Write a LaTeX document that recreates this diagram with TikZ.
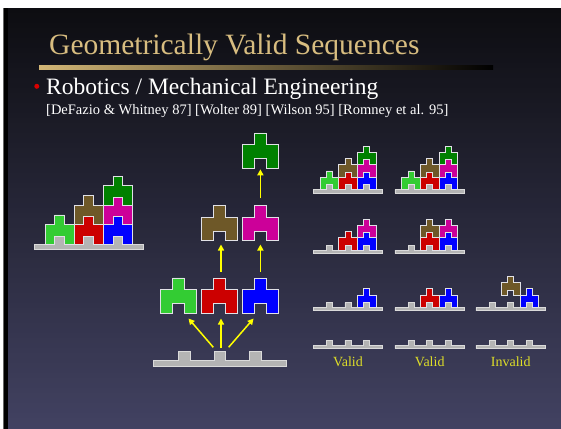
\documentclass[tikz,border=0pt]{standalone}
\usepackage{fontspec}
\setmainfont{Liberation Serif}
\usetikzlibrary{arrows.meta}

\definecolor{bgtop}{RGB}{13,13,17}
\definecolor{bgbot}{RGB}{66,66,98}
\definecolor{titlegold}{RGB}{216,189,128}
\definecolor{rulegold}{RGB}{210,182,118}
\definecolor{lgreen}{RGB}{51,204,51}
\definecolor{pred}{RGB}{204,0,0}
\definecolor{pblue}{RGB}{0,0,255}
\definecolor{pbrown}{RGB}{110,88,40}
\definecolor{pmagenta}{RGB}{204,0,153}
\definecolor{dgreen}{RGB}{0,128,0}
\definecolor{plategray}{RGB}{180,180,180}
\definecolor{plateedge}{RGB}{218,218,218}
\definecolor{pieceedge}{RGB}{225,225,230}
\definecolor{arrowyellow}{RGB}{255,255,0}
\definecolor{labelyellow}{RGB}{222,222,40}

\tikzset{
  pics/piece/.style 2 args={code={
    \filldraw[draw=pieceedge, line width=0.8pt, line join=miter, fill=#1, scale=#2]
      (0,0) -- (1,0) -- (1,-0.8) -- (2,-0.8) -- (2,0) -- (3,0) -- (3,-2)
      -- (2,-2) -- (2,-3) -- (1,-3) -- (1,-2) -- (0,-2) -- cycle;
  }},
  pics/plate/.style={code={
    \filldraw[draw=plateedge, line width=0.8pt, fill=plategray, scale=#1]
      (-1.1,0.57) -- (-1.1,0) -- (1,0) -- (1,-0.75) -- (2,-0.75) -- (2,0)
      -- (4,0) -- (4,-0.75) -- (5,-0.75) -- (5,0) -- (7,0) -- (7,-0.75)
      -- (8,-0.75) -- (8,0) -- (10.1,0) -- (10.1,0.57) -- cycle;
  }},
  flow/.style={draw=arrowyellow, line width=1.5pt,
    -{Triangle[length=6pt,width=6pt]}},
  verdict/.style={font=\fontsize{14}{16}\selectfont, text=labelyellow,
    anchor=base, inner sep=0pt},
}

% one piece of an assembly: slot, level, colour
\newcommand\asmpiece[3]{%
  \pic at ({3*(#1)*\asmscale},{-2*(#2)*\asmscale}) {piece={#3}{\asmscale}};}

\begin{document}
\begin{tikzpicture}[x=1pt,y=-1pt]
\useasboundingbox (0,0) rectangle (561,428);

% slide background, built from thin horizontal bands
\fill[white] (0,0) rectangle (561,428);
\fill[black!60] (3,8) rectangle (4.2,432);
\fill[black] (4.2,8) rectangle (7.5,432);
\foreach \k in {0,...,84} {
  \pgfmathsetmacro\mix{100*\k/84}
  \fill[bgbot!\mix!bgtop] (7.5,{8+5*\k}) rectangle (570,{13.6+5*\k});
}

% heading
\node[anchor=base west, inner sep=0pt, text=titlegold,
      font=\fontsize{29.5}{34}\selectfont] (title) at (49,54.3)
  {Geometrically Valid Sequences};
\shade[left color=rulegold, middle color=rulegold!85!black, right color=black]
  (39,65.3) rectangle (493,69.5);

% bullet and references
\fill[red!85!black] (36.8,86.3) circle (2.5);
\node[anchor=base west, inner sep=0pt, text=white,
      font=\fontsize{23.5}{28}\selectfont] (sub) at (46,94.3)
  {Robotics / Mechanical Engineering};
\node[anchor=base west, inner sep=0pt, text=white,
      font=\fontsize{14.5}{17}\selectfont] (refs) at (46,114)
  {[DeFazio \& Whitney 87] [Wolter 89] [Wilson 95] [Romney et al. 95]};

% complete assembly
\begin{scope}[shift={(45,244)}]
  \def\asmscale{9.7}
  \pic at (0,0) {plate=\asmscale};
  \asmpiece{0}{0}{lgreen}
  \asmpiece{1}{0}{pred}
  \asmpiece{2}{0}{pblue}
  \asmpiece{1}{1}{pbrown}
  \asmpiece{2}{1}{pmagenta}
  \asmpiece{2}{2}{dgreen}
\end{scope}

% precedence tree
\begin{scope}[shift={(166.8,360)}]
  \def\asmscale{11.8}
  \pic at (0,0) {plate=\asmscale};
\end{scope}
\pic at (160.7,313.3) {piece={lgreen}{11.8}};
\pic at (201.7,313.3) {piece={pred}{11.8}};
\pic at (242.5,313.3) {piece={pblue}{11.8}};
\pic at (201.7,240.7) {piece={pbrown}{11.8}};
\pic at (242.5,240.7) {piece={pmagenta}{11.8}};
\pic at (242.5,168.3) {piece={dgreen}{11.8}};

\coordinate (baseL) at (213.3,347.3);
\coordinate (baseM) at (221,348.3);
\coordinate (baseR) at (228.6,347.3);
\coordinate (greenIn) at (188.5,318.5);
\coordinate (redIn) at (221,318.5);
\coordinate (blueIn) at (253.6,318.5);
\coordinate (redOut) at (221,271.7);
\coordinate (blueOut) at (260.4,271.7);
\coordinate (brownIn) at (221,244.5);
\coordinate (magIn) at (260.4,244.5);
\coordinate (magOut) at (260.4,198.3);
\coordinate (topIn) at (260.4,169.3);
\draw[flow] (baseL) -- (greenIn);
\draw[flow] (baseM) -- (redIn);
\draw[flow] (baseR) -- (blueIn);
\draw[flow] (redOut) -- (brownIn);
\draw[flow] (blueOut) -- (magIn);
\draw[flow] (magOut) -- (topIn);

% sequences: column 1
\begin{scope}[shift={(320.1,189.5)}]
  \def\asmscale{6.2}
  \pic at (0,0) {plate=\asmscale};
  \asmpiece{0}{0}{lgreen}
  \asmpiece{1}{0}{pred}
  \asmpiece{2}{0}{pblue}
  \asmpiece{1}{1}{pbrown}
  \asmpiece{2}{1}{pmagenta}
  \asmpiece{2}{2}{dgreen}
\end{scope}
\begin{scope}[shift={(320.1,250)}]
  \def\asmscale{6.2}
  \pic at (0,0) {plate=\asmscale};
  \asmpiece{1}{0}{pred}
  \asmpiece{2}{0}{pblue}
  \asmpiece{2}{1}{pmagenta}
\end{scope}
\begin{scope}[shift={(320.1,307.3)}]
  \def\asmscale{6.2}
  \pic at (0,0) {plate=\asmscale};
  \asmpiece{2}{0}{pblue}
\end{scope}
\begin{scope}[shift={(320.1,345)}]
  \def\asmscale{6.2}
  \pic at (0,0) {plate=\asmscale};
\end{scope}

% sequences: column 2
\begin{scope}[shift={(401.8,189.5)}]
  \def\asmscale{6.2}
  \pic at (0,0) {plate=\asmscale};
  \asmpiece{0}{0}{lgreen}
  \asmpiece{1}{0}{pred}
  \asmpiece{2}{0}{pblue}
  \asmpiece{1}{1}{pbrown}
  \asmpiece{2}{1}{pmagenta}
  \asmpiece{2}{2}{dgreen}
\end{scope}
\begin{scope}[shift={(401.8,250)}]
  \def\asmscale{6.2}
  \pic at (0,0) {plate=\asmscale};
  \asmpiece{1}{0}{pred}
  \asmpiece{2}{0}{pblue}
  \asmpiece{1}{1}{pbrown}
  \asmpiece{2}{1}{pmagenta}
\end{scope}
\begin{scope}[shift={(401.8,307.3)}]
  \def\asmscale{6.2}
  \pic at (0,0) {plate=\asmscale};
  \asmpiece{1}{0}{pred}
  \asmpiece{2}{0}{pblue}
\end{scope}
\begin{scope}[shift={(401.8,345)}]
  \def\asmscale{6.2}
  \pic at (0,0) {plate=\asmscale};
\end{scope}

% sequences: column 3
\begin{scope}[shift={(482.8,307.3)}]
  \def\asmscale{6.2}
  \pic at (0,0) {plate=\asmscale};
  \asmpiece{2}{0}{pblue}
  \asmpiece{1}{1}{pbrown}
\end{scope}
\begin{scope}[shift={(482.8,345)}]
  \def\asmscale{6.2}
  \pic at (0,0) {plate=\asmscale};
\end{scope}

\node[verdict] (v1) at (348,366) {Valid};
\node[verdict] (v2) at (429.7,366) {Valid};
\node[verdict] (v3) at (510.7,366) {Invalid};
\end{tikzpicture}
\end{document}
